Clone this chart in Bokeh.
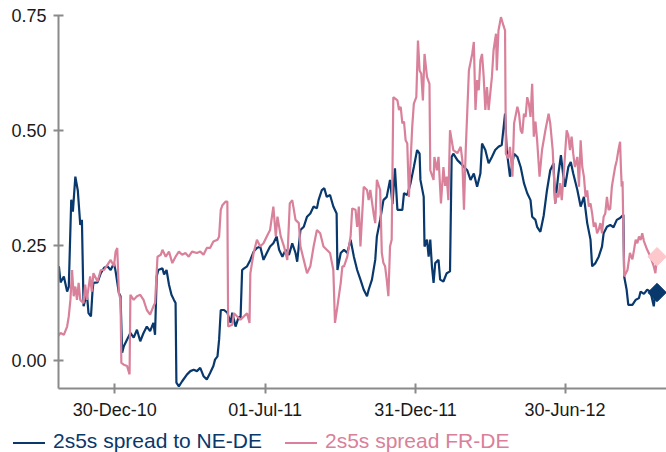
import math
import pandas as pd
from bokeh.plotting import figure
from bokeh.layouts import column
from bokeh.models import (Range1d, FixedTicker, DatetimeTickFormatter,
                          PrintfTickFormatter, Div)
from bokeh.embed import file_html
from bokeh.resources import INLINE

# ---------------- data ----------------
base_date = "2010-12-30"   # day 0 of the day offsets below

ne_days = [-70, -68, -66, -62, -58, -56, -53, -51, -48, -45,
           -42, -40, -38, -36, -34, -32, -29, -27, -26, -21,
           -17, -13, -9, -5, -1, 1, 5, 7, 9, 11,
           15, 19, 23, 27, 31, 35, 39, 43, 47, 49,
           51, 53, 58, 60, 63, 66, 69, 72, 74, 75,
           78, 82, 88, 92, 96, 100, 104, 108, 112, 116,
           120, 122, 125, 127, 129, 133, 137, 141, 143, 147,
           151, 153, 155, 157, 161, 165, 169, 173, 177, 181,
           185, 189, 193, 197, 200, 204, 208, 212, 216, 220,
           222, 226, 230, 234, 238, 242, 246, 248, 252, 255,
           258, 262, 266, 270, 271, 275, 279, 283, 287, 291,
           295, 299, 303, 307, 309, 313, 317, 319, 323, 327,
           331, 335, 338, 341, 344, 350, 352, 356, 360, 364,
           368, 371, 372, 376, 377, 380, 382, 384, 386, 388,
           390, 394, 396, 400, 404, 408, 410, 412, 417, 421,
           425, 429, 433, 437, 441, 445, 447, 451, 455, 459,
           463, 467, 471, 475, 477, 481, 484, 486, 490, 494,
           498, 502, 506, 508, 512, 514, 518, 522, 526, 530,
           534, 536, 540, 543, 546, 548, 552, 555, 558, 563,
           567, 571, 575, 579, 581, 585, 589, 593, 595, 599,
           603, 607, 611, 615, 619, 620, 623, 625, 630, 634,
           638, 640, 644, 648, 652, 656, 658, 660]

ne_values = [0.190, 0.205, 0.170, 0.183, 0.150, 0.160, 0.350, 0.324, 0.400, 0.370,
             0.295, 0.306, 0.118, 0.132, 0.147, 0.103, 0.096, 0.154, 0.169, 0.170,
             0.190, 0.202, 0.205, 0.197, 0.212, 0.194, 0.147, 0.140, 0.017, 0.031,
             0.046, 0.060, 0.050, 0.067, 0.042, 0.060, 0.074, 0.064, 0.082, 0.056,
             0.183, 0.197, 0.201, 0.187, 0.197, 0.165, 0.143, 0.132, 0.125, -0.048,
             -0.056, -0.045, -0.030, -0.023, -0.020, -0.023, -0.016, -0.034, -0.041, -0.027,
             -0.012, 0.002, 0.009, 0.046, 0.110, 0.110, 0.104, 0.082, 0.104, 0.074,
             0.096, 0.089, 0.197, 0.200, 0.205, 0.219, 0.237, 0.245, 0.248, 0.219,
             0.234, 0.248, 0.255, 0.270, 0.241, 0.226, 0.241, 0.230, 0.255, 0.234,
             0.215, 0.284, 0.291, 0.313, 0.320, 0.335, 0.331, 0.349, 0.371, 0.375,
             0.356, 0.360, 0.335, 0.320, 0.197, 0.234, 0.241, 0.234, 0.263, 0.226,
             0.197, 0.176, 0.154, 0.140, 0.154, 0.176, 0.219, 0.270, 0.306, 0.349,
             0.356, 0.393, 0.340, 0.418, 0.328, 0.328, 0.364, 0.360, 0.386, 0.421,
             0.458, 0.450, 0.393, 0.356, 0.248, 0.263, 0.226, 0.263, 0.205, 0.169,
             0.212, 0.219, 0.176, 0.172, 0.190, 0.194, 0.443, 0.450, 0.436, 0.429,
             0.421, 0.414, 0.393, 0.407, 0.378, 0.407, 0.472, 0.458, 0.429, 0.443,
             0.458, 0.465, 0.469, 0.537, 0.458, 0.400, 0.430, 0.450, 0.443, 0.421,
             0.386, 0.364, 0.349, 0.313, 0.306, 0.291, 0.280, 0.315, 0.370, 0.414,
             0.429, 0.342, 0.407, 0.447, 0.400, 0.378, 0.421, 0.432, 0.407, 0.371,
             0.335, 0.356, 0.299, 0.263, 0.205, 0.212, 0.226, 0.248, 0.277, 0.291,
             0.295, 0.290, 0.306, 0.310, 0.317, 0.183, 0.154, 0.121, 0.121, 0.132,
             0.136, 0.150, 0.145, 0.154, 0.150, 0.118, 0.147, 0.148]

fr_days = [-70, -69, -66, -62, -58, -56, -54, -52, -50, -48,
           -46, -44, -42, -38, -36, -34, -30, -28, -26, -21,
           -17, -13, -9, -5, -1, 1, 3, 5, 7, 8,
           11, 15, 18, 19, 23, 27, 31, 35, 39, 43,
           47, 49, 52, 56, 58, 62, 66, 70, 74, 78,
           82, 86, 90, 94, 100, 104, 108, 112, 116, 120,
           125, 127, 129, 131, 135, 137, 138, 143, 145, 149,
           153, 157, 161, 164, 165, 169, 173, 177, 181, 185,
           189, 193, 196, 198, 202, 206, 210, 213, 216, 220,
           224, 226, 230, 234, 238, 242, 246, 250, 254, 258,
           262, 266, 268, 271, 275, 277, 279, 283, 287, 289,
           293, 295, 297, 299, 303, 307, 309, 311, 315, 317,
           319, 323, 325, 327, 329, 331, 333, 335, 337, 339,
           344, 346, 348, 350, 352, 354, 356, 358, 362, 364,
           367, 369, 371, 373, 375, 377, 380, 383, 384, 388,
           389, 392, 394, 397, 400, 402, 404, 406, 408, 412,
           417, 421, 423, 425, 427, 431, 435, 437, 439, 441,
           443, 445, 447, 449, 451, 453, 455, 459, 461, 464,
           465, 467, 470, 473, 475, 476, 479, 481, 484, 486,
           490, 492, 494, 496, 498, 500, 502, 504, 506, 508,
           510, 512, 514, 517, 520, 524, 528, 530, 533, 536,
           538, 540, 542, 544, 547, 550, 552, 554, 556, 558,
           560, 563, 565, 567, 569, 571, 573, 575, 577, 579,
           581, 583, 585, 587, 589, 591, 593, 595, 597, 599,
           601, 603, 605, 607, 609, 611, 613, 615, 616, 617,
           618, 620, 622, 624, 627, 630, 632, 634, 636, 638,
           640, 642, 644, 648, 652, 656, 658, 660]

fr_values = [0.089, 0.053, 0.060, 0.056, 0.074, 0.096, 0.132, 0.197, 0.140, 0.161,
             0.132, 0.169, 0.132, 0.125, 0.165, 0.132, 0.183, 0.150, 0.190, 0.172,
             0.197, 0.197, 0.208, 0.219, 0.205, 0.237, 0.245, 0.147, 0.132, -0.005,
             -0.009, -0.012, -0.030, 0.143, 0.132, 0.140, 0.143, 0.132, 0.110, 0.100,
             0.118, 0.125, 0.226, 0.230, 0.241, 0.226, 0.237, 0.212, 0.226, 0.237,
             0.230, 0.234, 0.226, 0.237, 0.234, 0.237, 0.230, 0.245, 0.245, 0.259,
             0.263, 0.270, 0.328, 0.338, 0.346, 0.346, 0.074, 0.078, 0.103, 0.096,
             0.089, 0.096, 0.103, 0.082, 0.190, 0.234, 0.263, 0.248, 0.255, 0.270,
             0.284, 0.335, 0.270, 0.313, 0.270, 0.248, 0.219, 0.342, 0.349, 0.306,
             0.299, 0.248, 0.219, 0.190, 0.205, 0.248, 0.284, 0.277, 0.248, 0.241,
             0.234, 0.197, 0.082, 0.118, 0.169, 0.205, 0.205, 0.226, 0.270, 0.331,
             0.328, 0.291, 0.335, 0.248, 0.378, 0.371, 0.349, 0.371, 0.320, 0.299,
             0.393, 0.371, 0.234, 0.212, 0.205, 0.176, 0.140, 0.248, 0.263, 0.573,
             0.566, 0.545, 0.552, 0.516, 0.520, 0.479, 0.472, 0.356, 0.508, 0.559,
             0.573, 0.696, 0.631, 0.624, 0.566, 0.667, 0.617, 0.602, 0.414, 0.393,
             0.443, 0.414, 0.443, 0.342, 0.421, 0.380, 0.400, 0.349, 0.501, 0.458,
             0.451, 0.465, 0.436, 0.328, 0.451, 0.631, 0.667, 0.693, 0.545, 0.610,
             0.588, 0.653, 0.667, 0.617, 0.545, 0.595, 0.545, 0.617, 0.675, 0.711,
             0.631, 0.718, 0.747, 0.729, 0.718, 0.450, 0.440, 0.465, 0.400, 0.516,
             0.552, 0.537, 0.501, 0.494, 0.537, 0.530, 0.573, 0.559, 0.530, 0.602,
             0.487, 0.520, 0.480, 0.400, 0.458, 0.500, 0.537, 0.516, 0.458, 0.342,
             0.364, 0.355, 0.386, 0.349, 0.421, 0.501, 0.490, 0.458, 0.487, 0.450,
             0.421, 0.443, 0.378, 0.479, 0.421, 0.400, 0.356, 0.370, 0.335, 0.342,
             0.320, 0.291, 0.300, 0.277, 0.285, 0.299, 0.277, 0.313, 0.320, 0.356,
             0.328, 0.330, 0.378, 0.400, 0.421, 0.436, 0.458, 0.476, 0.421, 0.378,
             0.390, 0.183, 0.190, 0.197, 0.234, 0.220, 0.241, 0.263, 0.255, 0.270,
             0.262, 0.277, 0.260, 0.241, 0.226, 0.205, 0.190, 0.226]

tick_dates = ["2010-12-30", "2011-07-01", "2011-12-31", "2012-06-30"]
y_ticks = [0.0, 0.25, 0.50, 0.75]
series_labels = ["2s5s spread to NE-DE", "2s5s spread FR-DE"]

# ---------------- styling ----------------
NAVY = "#08386c"
PINK = "#d9809a"
PINK_MARK = "#fdc8cb"
AXIS = "#8a8a8a"
FONT = "Liberation Sans"
LW = 2.2

base = pd.Timestamp(base_date)
ne_dates = base + pd.to_timedelta(ne_days, unit="D")
fr_dates = base + pd.to_timedelta(fr_days, unit="D")

x_start = base + pd.Timedelta(days=-68.5)
x_end = base + pd.Timedelta(days=671.5)

# thin black rule across the top of the picture (a 2px figure, all border)
top_rule = figure(width=666, height=2, output_backend="svg",
                  toolbar_location=None, title=None,
                  x_axis_location=None, y_axis_location=None, min_border=0,
                  x_range=Range1d(0, 1), y_range=Range1d(0, 1),
                  border_fill_color="#000000", background_fill_color="#000000")
top_rule.outline_line_color = None
top_rule.xgrid.visible = False
top_rule.ygrid.visible = False

p = figure(width=666, height=420, x_axis_type="datetime",
           output_backend="svg", toolbar_location=None, title=None,
           x_range=Range1d(x_start, x_end), y_range=Range1d(-0.0608, 0.755),
           min_border_left=58, min_border_right=0, min_border_top=11,
           min_border_bottom=33)

r_ne = p.line(ne_dates, ne_values, line_color=NAVY, line_width=LW)
r_fr = p.line(fr_dates, fr_values, line_color=PINK, line_width=LW)

p.scatter([ne_dates[-1]], [ne_values[-1]], marker="square", size=13,
          angle=math.pi / 4, fill_color=NAVY, line_color=NAVY)
p.scatter([fr_dates[-1]], [fr_values[-1]], marker="square", size=13,
          angle=math.pi / 4, fill_color=PINK_MARK, line_color=PINK_MARK)

tick_ms = [pd.Timestamp(d).value / 1e6 for d in tick_dates]
p.xaxis.ticker = FixedTicker(ticks=tick_ms, minor_ticks=[])
fmt = "%d-%b-%y"
p.xaxis.formatter = DatetimeTickFormatter(days=fmt, months=fmt, years=fmt,
                                          hours=fmt, minutes=fmt)
p.yaxis.ticker = FixedTicker(ticks=y_ticks, minor_ticks=[])
p.yaxis.formatter = PrintfTickFormatter(format="%.2f")
p.yaxis.bounds = (-0.0608, 0.75)

for ax in (p.xaxis, p.yaxis):
    ax.axis_line_color = AXIS
    ax.axis_line_width = 2
    ax.major_tick_line_color = AXIS
    ax.major_tick_line_width = 2
    ax.major_tick_in = 5
    ax.major_tick_out = 5
    ax.minor_tick_line_color = None
    ax.major_label_text_font = FONT
    ax.major_label_text_font_size = "18px"
    ax.major_label_text_color = "#1a1a1a"
p.xaxis.major_label_standoff = 6
p.yaxis.major_label_standoff = 7

p.xgrid.visible = False
p.ygrid.visible = False
p.outline_line_color = None
p.background_fill_color = "white"
p.border_fill_color = "white"

# ---------------- legend strip (real text) ----------------
def legend_entry(x_line, x_text, color, label):
    return (f'<div style="position:absolute;left:{x_line}px;top:19.6px;'
            f'width:32px;height:2.2px;background:{color};"></div>'
            f'<div style="position:absolute;left:{x_text}px;top:7.6px;'
            f'color:{color};white-space:nowrap;">{label}</div>')


legend_html = ('<div style="position:relative;width:666px;height:30px;'
               "font-family:'Liberation Sans',Arial,sans-serif;"
               'font-size:21px;line-height:21px;">'
               + legend_entry(13, 53, NAVY, series_labels[0])
               + legend_entry(285, 325, PINK, series_labels[1])
               + '</div>')
legend_strip = Div(text=legend_html, width=666, height=30, margin=0)

layout = column(top_rule, p, legend_strip, spacing=0)
open("out.html", "w").write(file_html(layout, INLINE))
